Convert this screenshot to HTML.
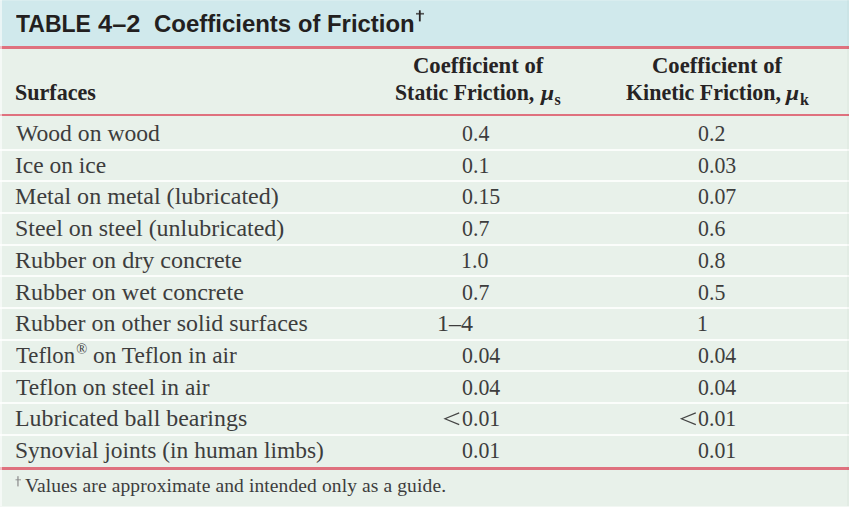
<!DOCTYPE html>
<html><head><meta charset="utf-8">
<style>
html,body{margin:0;padding:0;background:#fff;}
body{width:860px;height:507px;position:relative;overflow:hidden;}
#tbl{position:absolute;left:0;top:0;width:849px;height:507px;background:#e8f1ea;}
#title{position:absolute;left:0;top:0;width:849px;height:46.5px;background:#d0e9ec;}
.red{position:absolute;left:0;width:849px;background:#df717e;}
.sep{position:absolute;left:0;width:849px;height:2px;background:#fbfdfb;}
#ledge{position:absolute;left:0;top:0;width:1.5px;height:506px;background:rgba(255,255,255,0.55);}
#tedge{position:absolute;left:0;top:0;width:849px;height:1px;background:rgba(255,255,255,0.2);}
#bedge{position:absolute;left:0;top:506px;width:849px;height:1px;background:rgba(255,255,255,0.45);}
#redge{position:absolute;left:847px;top:0;width:2px;height:506px;background:rgba(0,40,20,0.025);}
.t{position:absolute;white-space:nowrap;line-height:1;color:#3d3d3d;transform-origin:0 0;}
#txt{position:absolute;left:0;top:0;width:860px;height:507px;}
</style></head><body><div id="tbl">
<div id="title"></div>
<div class="red" style="top:46px;height:2.6px"></div>
<div class="red" style="top:113.5px;height:2.1px"></div>
<div class="red" style="top:467.2px;height:2.4px"></div>
<div class="sep" style="top:148.60px"></div>
<div class="sep" style="top:180.26px"></div>
<div class="sep" style="top:211.92px"></div>
<div class="sep" style="top:243.58px"></div>
<div class="sep" style="top:275.24px"></div>
<div class="sep" style="top:306.90px"></div>
<div class="sep" style="top:338.56px"></div>
<div class="sep" style="top:370.22px"></div>
<div class="sep" style="top:401.88px"></div>
<div class="sep" style="top:433.54px"></div>
<div id="txt"><div class="t" style="left:15.80px;top:122.90px;font-family:'Liberation Serif',serif;font-size:22.5px;color:#3d3d3d;transform:scaleX(1.0511);">Wood on wood</div>
<div class="t" style="left:15.26px;top:154.62px;font-family:'Liberation Serif',serif;font-size:22.5px;color:#3d3d3d;transform:scaleX(1.0430);">Ice on ice</div>
<div class="t" style="left:14.83px;top:186.34px;font-family:'Liberation Serif',serif;font-size:22.5px;color:#3d3d3d;transform:scaleX(1.0690);">Metal on metal (lubricated)</div>
<div class="t" style="left:15.24px;top:218.06px;font-family:'Liberation Serif',serif;font-size:22.5px;color:#3d3d3d;transform:scaleX(1.0641);">Steel on steel (unlubricated)</div>
<div class="t" style="left:15.43px;top:249.78px;font-family:'Liberation Serif',serif;font-size:22.5px;color:#3d3d3d;transform:scaleX(1.0719);">Rubber on dry concrete</div>
<div class="t" style="left:15.43px;top:281.50px;font-family:'Liberation Serif',serif;font-size:22.5px;color:#3d3d3d;transform:scaleX(1.0681);">Rubber on wet concrete</div>
<div class="t" style="left:15.44px;top:313.22px;font-family:'Liberation Serif',serif;font-size:22.5px;color:#3d3d3d;transform:scaleX(1.0648);">Rubber on other solid surfaces</div>
<div class="t" style="left:16.20px;top:344.94px;font-family:'Liberation Serif',serif;font-size:22.5px;color:#3d3d3d;transform:scaleX(1.0103);">Teflon</div>
<div class="t" style="left:92.96px;top:344.94px;font-family:'Liberation Serif',serif;font-size:22.5px;color:#3d3d3d;transform:scaleX(1.0377);">on Teflon in air</div>
<div class="t" style="left:16.20px;top:376.66px;font-family:'Liberation Serif',serif;font-size:22.5px;color:#3d3d3d;transform:scaleX(1.0419);">Teflon on steel in air</div>
<div class="t" style="left:15.14px;top:408.38px;font-family:'Liberation Serif',serif;font-size:22.5px;color:#3d3d3d;transform:scaleX(1.0618);">Lubricated ball bearings</div>
<div class="t" style="left:14.96px;top:440.10px;font-family:'Liberation Serif',serif;font-size:22.5px;color:#3d3d3d;transform:scaleX(1.0425);">Synovial joints (in human limbs)</div>
<div class="t" style="left:461.85px;top:121.90px;font-family:'Liberation Serif',serif;font-size:23.0px;color:#3d3d3d;transform:scaleX(0.9500);">0.4</div>
<div class="t" style="left:461.85px;top:153.62px;font-family:'Liberation Serif',serif;font-size:23.0px;color:#3d3d3d;transform:scaleX(0.9500);">0.1</div>
<div class="t" style="left:461.85px;top:185.34px;font-family:'Liberation Serif',serif;font-size:23.0px;color:#3d3d3d;transform:scaleX(0.9500);">0.15</div>
<div class="t" style="left:461.85px;top:217.06px;font-family:'Liberation Serif',serif;font-size:23.0px;color:#3d3d3d;transform:scaleX(0.9500);">0.7</div>
<div class="t" style="left:460.90px;top:248.78px;font-family:'Liberation Serif',serif;font-size:23.0px;color:#3d3d3d;transform:scaleX(0.9500);">1.0</div>
<div class="t" style="left:461.85px;top:280.50px;font-family:'Liberation Serif',serif;font-size:23.0px;color:#3d3d3d;transform:scaleX(0.9500);">0.7</div>
<div class="t" style="left:437.11px;top:312.22px;font-family:'Liberation Serif',serif;font-size:23.0px;color:#3d3d3d;transform:scaleX(1.0438);">1–4</div>
<div class="t" style="left:461.85px;top:343.94px;font-family:'Liberation Serif',serif;font-size:23.0px;color:#3d3d3d;transform:scaleX(0.9500);">0.04</div>
<div class="t" style="left:461.85px;top:375.66px;font-family:'Liberation Serif',serif;font-size:23.0px;color:#3d3d3d;transform:scaleX(0.9500);">0.04</div>
<div class="t" style="left:461.85px;top:407.38px;font-family:'Liberation Serif',serif;font-size:23.0px;color:#3d3d3d;transform:scaleX(0.9500);">0.01</div>
<div class="t" style="left:461.85px;top:439.10px;font-family:'Liberation Serif',serif;font-size:23.0px;color:#3d3d3d;transform:scaleX(0.9500);">0.01</div>
<div class="t" style="left:697.95px;top:121.90px;font-family:'Liberation Serif',serif;font-size:23.0px;color:#3d3d3d;transform:scaleX(0.9500);">0.2</div>
<div class="t" style="left:697.95px;top:153.62px;font-family:'Liberation Serif',serif;font-size:23.0px;color:#3d3d3d;transform:scaleX(0.9500);">0.03</div>
<div class="t" style="left:697.95px;top:185.34px;font-family:'Liberation Serif',serif;font-size:23.0px;color:#3d3d3d;transform:scaleX(0.9500);">0.07</div>
<div class="t" style="left:697.95px;top:217.06px;font-family:'Liberation Serif',serif;font-size:23.0px;color:#3d3d3d;transform:scaleX(0.9500);">0.6</div>
<div class="t" style="left:697.95px;top:248.78px;font-family:'Liberation Serif',serif;font-size:23.0px;color:#3d3d3d;transform:scaleX(0.9500);">0.8</div>
<div class="t" style="left:697.95px;top:280.50px;font-family:'Liberation Serif',serif;font-size:23.0px;color:#3d3d3d;transform:scaleX(0.9500);">0.5</div>
<div class="t" style="left:697.00px;top:312.22px;font-family:'Liberation Serif',serif;font-size:23.0px;color:#3d3d3d;transform:scaleX(0.9500);">1</div>
<div class="t" style="left:697.95px;top:343.94px;font-family:'Liberation Serif',serif;font-size:23.0px;color:#3d3d3d;transform:scaleX(0.9500);">0.04</div>
<div class="t" style="left:697.95px;top:375.66px;font-family:'Liberation Serif',serif;font-size:23.0px;color:#3d3d3d;transform:scaleX(0.9500);">0.04</div>
<div class="t" style="left:697.95px;top:407.38px;font-family:'Liberation Serif',serif;font-size:23.0px;color:#3d3d3d;transform:scaleX(0.9500);">0.01</div>
<div class="t" style="left:697.95px;top:439.10px;font-family:'Liberation Serif',serif;font-size:23.0px;color:#3d3d3d;transform:scaleX(0.9500);">0.01</div>
<div class="t" style="left:14.84px;top:80.50px;font-family:'Liberation Serif',serif;font-size:23.0px;font-weight:bold;color:#262324;transform:scaleX(0.9602);">Surfaces</div>
<div class="t" style="left:412.91px;top:53.80px;font-family:'Liberation Serif',serif;font-size:23.0px;font-weight:bold;color:#262324;transform:scaleX(0.9856);">Coefficient of</div>
<div class="t" style="left:394.85px;top:81.00px;font-family:'Liberation Serif',serif;font-size:23.0px;font-weight:bold;color:#262324;transform:scaleX(0.9476);">Static Friction,</div>
<div class="t" style="left:651.82px;top:53.80px;font-family:'Liberation Serif',serif;font-size:23.0px;font-weight:bold;color:#262324;transform:scaleX(0.9833);">Coefficient of</div>
<div class="t" style="left:625.80px;top:81.00px;font-family:'Liberation Serif',serif;font-size:23.0px;font-weight:bold;color:#262324;transform:scaleX(0.9549);">Kinetic Friction,</div>
<div class="t" style="left:15.70px;top:11.80px;font-family:'Liberation Sans',sans-serif;font-weight:bold;font-size:24.5px;color:#231f20;transform:scaleX(0.9380);">TABLE</div>
<div class="t" style="left:98.00px;top:11.80px;font-family:'Liberation Sans',sans-serif;font-weight:bold;font-size:24.5px;color:#231f20;transform:scaleX(1.0375);">4–2</div>
<div class="t" style="left:153.92px;top:11.80px;font-family:'Liberation Sans',sans-serif;font-weight:bold;font-size:24.5px;color:#231f20;transform:scaleX(0.9783);">Coefficients</div>
<div class="t" style="left:297.84px;top:11.80px;font-family:'Liberation Sans',sans-serif;font-weight:bold;font-size:24.5px;color:#231f20;transform:scaleX(0.9636);">of</div>
<div class="t" style="left:327.05px;top:11.80px;font-family:'Liberation Sans',sans-serif;font-weight:bold;font-size:24.5px;color:#231f20;transform:scaleX(0.9756);">Friction</div>
<div class="t" style="left:24.90px;top:476.30px;font-family:'Liberation Serif',serif;font-size:19.5px;color:#3d3d3d;letter-spacing:0.114px;">Values are approximate and intended only as a guide.</div>
<div class="t" style="left:540.62px;top:83.00px;font-family:'Liberation Serif',serif;font-size:21px;font-weight:bold;font-style:italic;color:#262324;transform:scaleX(1.1200);">μ</div>
<div class="t" style="left:786.12px;top:83.00px;font-family:'Liberation Serif',serif;font-size:21px;font-weight:bold;font-style:italic;color:#262324;transform:scaleX(1.1200);">μ</div>
<div class="t" style="left:554.60px;top:91.60px;font-family:'Liberation Serif',serif;font-size:16px;font-weight:bold;color:#262324;">s</div>
<div class="t" style="left:800.00px;top:91.50px;font-family:'Liberation Serif',serif;font-size:16px;font-weight:bold;color:#262324;">k</div>
<div class="t" style="left:76.20px;top:342.10px;font-family:'Liberation Serif',serif;font-size:14.5px;color:#3d3d3d;">®</div>
<svg width="860" height="507" style="position:absolute;left:0;top:0">
<g fill="#2a2526"><rect x="418.9" y="10.3" width="1.8" height="11.1"/><rect x="416" y="12.9" width="8" height="1.7" opacity="0.75"/></g>
<g fill="#8a8a8a"><rect x="17.2" y="476.2" width="1.5" height="10.2" opacity="0.8"/><rect x="15.5" y="479.1" width="5.5" height="1.3" opacity="0.7"/></g>
<g stroke="#444" stroke-width="1.15" fill="none"><polyline points="459.2,412.9 444.9,418.8 459.2,424.6"/><polyline points="695.8,412.9 681.4,418.8 695.8,424.6"/></g>
</svg></div>
<div id="ledge"></div><div id="bedge"></div><div id="tedge"></div><div id="redge"></div>
</div></body></html>
